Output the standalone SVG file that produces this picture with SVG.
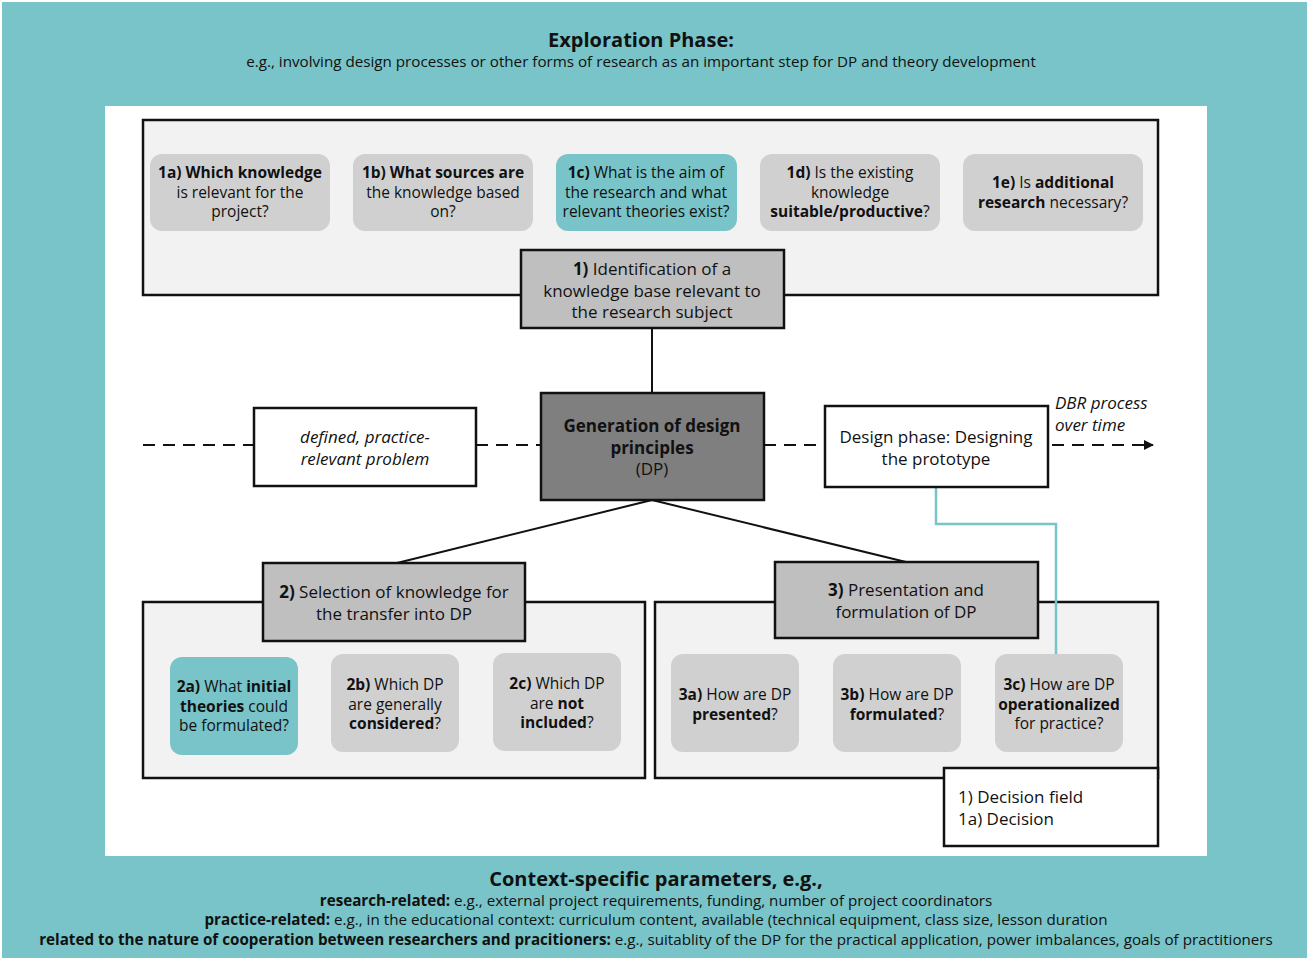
<svg xmlns="http://www.w3.org/2000/svg" width="1309" height="958" viewBox="0 0 1309 958">
<style>
text{font-family:"Open Sans","Noto Sans","Liberation Sans",sans-serif;fill:#111;text-anchor:middle}
.b{font-weight:bold}
.i{font-style:italic}
.q{font-size:15.5px}
.h{font-size:17px}
.f{font-size:15.2px}
.cont{fill:#f2f2f2;stroke:#111;stroke-width:2.5}
.hdr{fill:#bfbfbf;stroke:#111;stroke-width:2.5}
.sm{fill:#d0d0d0}
.tl{fill:#78c4c8}
.wb{fill:#fff;stroke:#111;stroke-width:2.5}
.ln{stroke:#111;stroke-width:2;fill:none}
.dash{stroke:#111;stroke-width:2;fill:none;stroke-dasharray:12 8}
</style>
<defs>
<marker id="arr" viewBox="0 0 10 10" refX="9" refY="5" markerWidth="10" markerHeight="10" markerUnits="userSpaceOnUse" orient="auto">
<path d="M0,0 L10,5 L0,10 z" fill="#111"/>
</marker>
</defs>
<rect x="2" y="2" width="1305" height="956" fill="#78c4c8"/>
<rect x="105" y="106" width="1102" height="750" fill="#fff"/>
<g id="header">
<text x="641" y="47" class="b" style="font-size:20px">Exploration Phase:</text>
<text x="641" y="67" class="f">e.g., involving design processes or other forms of research as an important step for DP and theory development</text>
</g>
<g id="containers">
<rect class="cont" x="143" y="120" width="1015" height="175"/>
<rect class="cont" x="143" y="602" width="502" height="176"/>
<rect class="cont" x="655" y="602" width="503" height="176"/>
</g>
<g id="connectors">
<line class="ln" x1="652" y1="328" x2="652" y2="393"/>
<line class="ln" x1="652" y1="500" x2="397" y2="563"/>
<line class="ln" x1="652" y1="500" x2="906" y2="562"/>
<line class="dash" x1="143" y1="445" x2="254" y2="445"/>
<line class="dash" x1="476" y1="445" x2="541" y2="445"/>
<line class="dash" x1="764" y1="445" x2="825" y2="445"/>
<line class="dash" x1="1052" y1="445" x2="1153" y2="445" marker-end="url(#arr)"/>
<polyline points="936,487 936,524 1056,524 1056,654" fill="none" stroke="#78c4c8" stroke-width="2.5"/>
</g>
<g id="n1a"><rect class="sm" x="150" y="154" width="180" height="77" rx="12"/>
<text class="q" x="240" y="178"><tspan class="b">1a) Which knowledge</tspan><tspan x="240" dy="19.5">is relevant for the</tspan><tspan x="240" dy="19.5">project?</tspan></text></g>
<g id="n1b"><rect class="sm" x="353" y="154" width="180" height="77" rx="12"/>
<text class="q" x="443" y="178"><tspan class="b">1b) What sources are</tspan><tspan x="443" dy="19.5">the knowledge based</tspan><tspan x="443" dy="19.5">on?</tspan></text></g>
<g id="n1c"><rect class="tl" x="556" y="154" width="181" height="77" rx="12"/>
<text class="q" x="646" y="178"><tspan class="b">1c)</tspan> What is the aim of<tspan x="646" dy="19.5">the research and what</tspan><tspan x="646" dy="19.5">relevant theories exist?</tspan></text></g>
<g id="n1d"><rect class="sm" x="760" y="154" width="180" height="77" rx="12"/>
<text class="q" x="850" y="178"><tspan class="b">1d)</tspan> Is the existing<tspan x="850" dy="19.5">knowledge</tspan><tspan x="850" dy="19.5" class="b">suitable/productive</tspan>?</text></g>
<g id="n1e"><rect class="sm" x="963" y="154" width="180" height="77" rx="12"/>
<text class="q" x="1053" y="188"><tspan class="b">1e)</tspan> Is <tspan class="b">additional</tspan><tspan x="1053" dy="19.5" class="b">research</tspan> necessary?</text></g>
<g id="n1"><rect class="hdr" x="521" y="250" width="263" height="78"/>
<text class="h" x="652" y="275"><tspan class="b">1)</tspan> Identification of a<tspan x="652" dy="21.5">knowledge base relevant to</tspan><tspan x="652" dy="21.5">the research subject</tspan></text></g>
<g id="nProblem"><rect class="wb" x="254" y="408" width="222" height="78"/>
<text class="h i" x="365" y="443">defined, practice-<tspan x="365" dy="21.5">relevant problem</tspan></text></g>
<g id="nGen"><rect fill="#7f7f7f" stroke="#111" stroke-width="2.5" x="541" y="393" width="223" height="107"/>
<text class="h" x="652" y="432"><tspan class="b">Generation of design</tspan><tspan x="652" dy="21.5" class="b">principles</tspan><tspan x="652" dy="21.5">(DP)</tspan></text></g>
<g id="nDesign"><rect class="wb" x="825" y="406" width="223" height="81"/>
<text class="h" x="936" y="443">Design phase: Designing<tspan x="936" dy="21.5">the prototype</tspan></text></g>
<g id="lblDBR"><text class="h i" x="1055" y="409" style="text-anchor:start">DBR process<tspan x="1055" dy="21.5">over time</tspan></text></g>
<g id="n2"><rect class="hdr" x="263" y="563" width="262" height="78"/>
<text class="h" x="394" y="598"><tspan class="b">2)</tspan> Selection of knowledge for<tspan x="394" dy="21.5">the transfer into DP</tspan></text></g>
<g id="n2a"><rect class="tl" x="170" y="657" width="128" height="98" rx="12"/>
<text class="q" x="234" y="692"><tspan class="b">2a)</tspan> What <tspan class="b">initial</tspan><tspan x="234" dy="19.5" class="b">theories</tspan> could<tspan x="234" dy="19.5">be formulated?</tspan></text></g>
<g id="n2b"><rect class="sm" x="331" y="654" width="128" height="98" rx="12"/>
<text class="q" x="395" y="690"><tspan class="b">2b)</tspan> Which DP<tspan x="395" dy="19.5">are generally</tspan><tspan x="395" dy="19.5" class="b">considered</tspan>?</text></g>
<g id="n2c"><rect class="sm" x="493" y="653" width="128" height="98" rx="12"/>
<text class="q" x="557" y="689"><tspan class="b">2c)</tspan> Which DP<tspan x="557" dy="19.5">are <tspan class="b">not</tspan></tspan><tspan x="557" dy="19.5" class="b">included</tspan>?</text></g>
<g id="n3"><rect class="hdr" x="775" y="562" width="263" height="76"/>
<text class="h" x="906" y="596"><tspan class="b">3)</tspan> Presentation and<tspan x="906" dy="21.5">formulation of DP</tspan></text></g>
<g id="n3a"><rect class="sm" x="671" y="654" width="128" height="98" rx="12"/>
<text class="q" x="735" y="700"><tspan class="b">3a)</tspan> How are DP<tspan x="735" dy="19.5" class="b">presented</tspan>?</text></g>
<g id="n3b"><rect class="sm" x="833" y="654" width="128" height="98" rx="12"/>
<text class="q" x="897" y="700"><tspan class="b">3b)</tspan> How are DP<tspan x="897" dy="19.5" class="b">formulated</tspan>?</text></g>
<g id="n3c"><rect class="sm" x="995" y="654" width="128" height="98" rx="12"/>
<text class="q" x="1059" y="690"><tspan class="b">3c)</tspan> How are DP<tspan x="1059" dy="19.5" class="b">operationalized</tspan><tspan x="1059" dy="19.5">for practice?</tspan></text></g>
<g id="legend"><rect class="wb" x="944" y="768" width="214" height="78"/>
<text class="h" x="958" y="803" style="text-anchor:start">1) Decision field<tspan x="958" dy="21.5">1a) Decision</tspan></text></g>
<g id="footer">
<text x="656" y="886" class="b" style="font-size:20px">Context-specific parameters, e.g.,</text>
<text x="656" y="906" class="f"><tspan class="b">research-related:</tspan> e.g., external project requirements, funding, number of project coordinators</text>
<text x="656" y="925" class="f"><tspan class="b">practice-related:</tspan> e.g., in the educational context: curriculum content, available (technical equipment, class size, lesson duration</text>
<text x="656" y="945" class="f"><tspan class="b">related to the nature of cooperation between researchers and pracitioners:</tspan> e.g., suitablity of the DP for the practical application, power imbalances, goals of practitioners</text>
</g>
</svg>
